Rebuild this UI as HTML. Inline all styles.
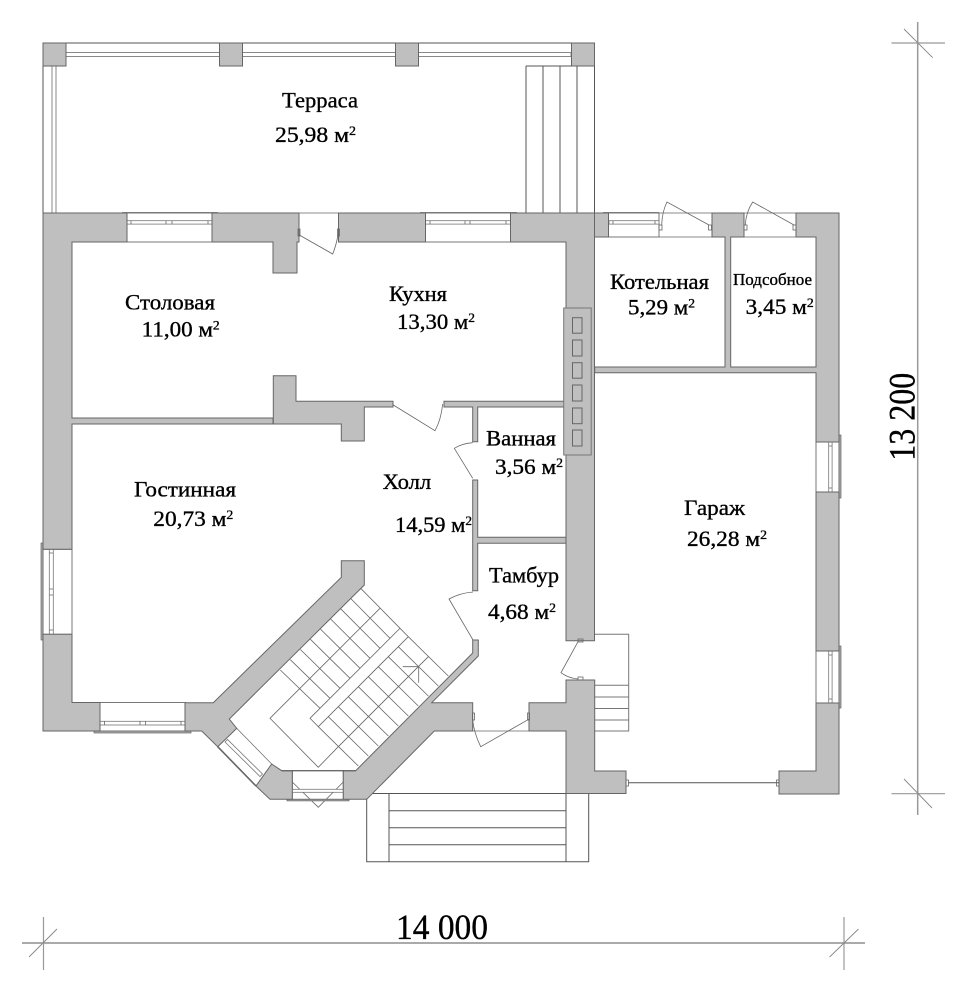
<!DOCTYPE html>
<html><head><meta charset="utf-8"><style>
html,body{margin:0;padding:0;background:#fff;width:974px;height:1000px;overflow:hidden}
svg{display:block}
.w{fill:#bfbfbf;stroke:#666;stroke-width:1}
.l{fill:none;stroke:#555;stroke-width:1}
.g{fill:none;stroke:#777;stroke-width:1}
.s{fill:none;stroke:#666;stroke-width:.8}
.sill{fill:#aaa;stroke:#666;stroke-width:.7}
.win{fill:#fff;stroke:#777;stroke-width:1}
.f{fill:#fff;stroke:#777;stroke-width:.8}
text{font-family:"Liberation Serif","Noto Serif CJK SC",serif;fill:#000;stroke:#000;stroke-width:.35}
tspan.u{font-size:13px}
</style></head><body>
<svg width="974" height="1000" viewBox="0 0 974 1000" xmlns="http://www.w3.org/2000/svg">
<rect width="974" height="1000" fill="#fff"/>

<!-- terrace -->
<path class="l" d="M43 43H594.5V213M43 43V213"/>
<rect x="66" y="52.5" width="505" height="4" fill="#fff" stroke="#888"/>
<rect x="52" y="66" width="4" height="147" fill="#fff" stroke="#888"/>
<rect class="w" x="43" y="43" width="23" height="23"/>
<rect class="w" x="219.5" y="43" width="23" height="23"/>
<rect class="w" x="395.5" y="43" width="23" height="23"/>
<rect class="w" x="571.5" y="43" width="23" height="23"/>
<path class="l" d="M526 66H571.5M526 66V213M543 66V213M560 66V213M577 66V213"/>

<!-- porch steps -->
<path class="l" d="M366.7 793.5H566V861.7H366.7ZM389 793.5V861.7H588.7V793.5M389 810.7H566M389 827.7H566M389 844.7H566"/>
<!-- garage side stairs -->
<path class="g" d="M594.7 634.3H628.7V731H594.7M594.7 685.3H628.7M594.7 697H628.7M594.7 708.5H628.7M594.7 720H628.7"/>
<path class="l" d="M628 782.7H779"/>

<!-- stairs -->
<g class="s">
<path d="M360.7 588.3L400 628.3L310 718.3L318.3 726.7L408.3 636.7L448.3 676M400 628.3L408.3 636.7"/>
<path d="M350.7 598.5L390 638.3M340.6 608.7L380 648.3M330.5 618.9L370 658.3M320.5 629.1L360 668.3M310.4 639.3L350 678.3M300.4 649.5L340 688.3M290.3 659.7L330 698.3M280.3 670L320 708.3"/>
<path d="M380 608.3L270 718.3L318.3 767.3L338.3 746.7"/>
<path d="M398.3 646.7L438.3 686M388.3 656.7L428.3 696M378.3 666.7L418.3 706M368.3 676.7L408.3 716M358.3 686.7L398.3 726M348.3 696.7L388.3 736M338.3 706.7L378.3 746M328.3 716.7L368.3 756M318.3 726.7L358.3 766"/>
<path d="M428.3 656.7L338.3 746.7"/>
<path d="M402.7 666.7H418.7V682.7"/>
</g>

<!-- windows -->
<g>
<rect class="win" x="127" y="213" width="85" height="29"/>
<path class="sill" d="M122 212.5H218" />
<rect class="f" x="127" y="220.7" width="85" height="3.4"/>
<path class="s" d="M131 220.7v3.4M166 220.7v3.4M172 220.7v3.4M208 220.7v3.4"/>

<rect class="win" x="425.5" y="213" width="85" height="29"/>
<path class="sill" d="M420 212.5H517"/>
<rect class="f" x="425.5" y="220.7" width="85" height="3.4"/>
<path class="s" d="M430 220.7v3.4M465 220.7v3.4M470 220.7v3.4M506 220.7v3.4"/>

<rect class="win" x="608.5" y="213" width="50.5" height="24"/>
<path class="sill" d="M603 212.5H659"/>
<rect class="f" x="609" y="220.7" width="50" height="3.4"/>
<path class="s" d="M613 220.7v3.4M655 220.7v3.4"/>

<!-- left -->
<rect class="win" x="43" y="549.3" width="29" height="85"/>
<rect class="sill" x="41" y="543" width="2" height="97"/>
<rect class="f" x="49.3" y="549.3" width="4" height="85"/>
<path class="s" d="M49.3 553h4M49.3 589h4M49.3 595h4M49.3 630h4"/>
<!-- bottom -->
<rect class="win" x="100" y="702.5" width="85.3" height="28.5"/>
<rect class="sill" x="94" y="731" width="97" height="2"/>
<rect class="f" x="100" y="721.3" width="85.3" height="3.7"/>
<path class="s" d="M104.5 721.3v3.7M140 721.3v3.7M145.5 721.3v3.7M181 721.3v3.7"/>
<!-- right -->
<rect class="win" x="816" y="442" width="23" height="50"/>
<rect class="sill" x="839" y="435" width="2" height="63"/>
<rect class="f" x="828.7" y="442" width="3.4" height="50"/>
<path class="s" d="M828.7 446h3.4M828.7 488h3.4"/>
<rect class="win" x="816" y="651" width="23" height="52"/>
<rect class="sill" x="839" y="646" width="2" height="62"/>
<rect class="f" x="828.7" y="651" width="3.4" height="52"/>
<path class="s" d="M828.7 655h3.4M828.7 699h3.4"/>
<!-- diagonal -->
<path class="win" d="M236.7 728.3L271.7 764L256 786L217.7 746.7Z" style="stroke-width:.8"/>
<path d="M217.7 746.7L256 786" stroke="#666" stroke-width="1.6" fill="none"/>
<path class="f" d="M225 742L260 776.5L262.5 774L227.5 739.5Z"/>
<!-- bay bottom -->
<rect class="win" x="292.3" y="770.7" width="51" height="28.6"/>
<path class="s" d="M292.3 782L318.3 807.3L343.3 782"/>
<rect class="f" x="292.3" y="789.3" width="51" height="3"/>
<rect class="sill" x="287" y="799.3" width="62" height="1.6"/>
</g>

<!-- walls -->
<path class="w" d="M43 213H127V242H72V418H273V424H72V549.3H43Z"/>
<path class="w" d="M212 213H299V242H297V273H273V242H212Z"/>
<rect class="w" x="338.5" y="213" width="87" height="29"/>
<path class="w" d="M510.5 213H594.5V640.7H566V242H510.5Z"/>
<rect class="w" x="594.5" y="213" width="14" height="24"/>
<path class="w" d="M529 702.7H566V680H594.7V771H626V793.5H566V731H529Z"/>
<path class="w" d="M43 634.3H72V702.5H100V731H43Z"/>
<path class="w" d="M712 213H744V237H730.7V367H816V237H796V213H839V442H816V372.7H594.7V367H725V237H712Z"/>
<rect class="w" x="816" y="492" width="23" height="159"/>
<path class="w" d="M816 703H839V794H779V771H816Z"/>
<path class="w" d="M273.3 375.7H296V401.3H393V407H364.3V441H341.3V424H273.3Z"/>
<path class="w" d="M444 401.3H566V407H477.7V441.7H472.7V407H444Z"/>
<path class="w" d="M472.7 480H477.7V537.3H566V543.3H477.7V590.7H472.7Z"/>
<path class="w" d="M343.3 770.7H355.7L424.3 701.7L472.7 653V640H478.3V656L431.7 702.7H472.7V731H434.3L366.7 799.3H343.3Z"/>
<path class="w" d="M341.3 560.7H364.3V585L229.3 719L236.7 728.3L217.7 746.7L201.7 731H185V702.7H213.3L341.3 577.3Z"/>
<path class="w" d="M271.7 764L281.7 770.7H292.3V799.3H270L256 786Z"/>
<path class="l" d="M281.7 770.7H355.7"/>

<!-- chimney -->
<rect x="563.7" y="308" width="27.5" height="147" fill="#bfbfbf" stroke="#777"/>
<g fill="#bfbfbf" stroke="#666">
<rect x="572.5" y="317.7" width="9.5" height="15.5"/>
<rect x="572.5" y="340" width="9.5" height="16"/>
<rect x="572.5" y="362.7" width="9.5" height="15.5"/>
<rect x="572.5" y="385" width="9.5" height="16"/>
<rect x="572.5" y="408" width="9.5" height="15.7"/>
<rect x="572.5" y="430" width="9.5" height="16"/>
</g>

<!-- doors -->
<g class="s">
<path d="M299 213H338.5"/>
<path d="M299.3 235L332.7 254Q336 246 338 235"/>
<rect x="298" y="229" width="2" height="7"/><rect x="337.5" y="229" width="2" height="7"/>
<path d="M659 237H712M659 213H712"/>
<path d="M709 225L667 202Q662 212 661.7 225"/>
<rect x="659" y="225" width="3" height="5"/><rect x="708.5" y="225" width="3" height="5"/>
<path d="M744 237H796M744 213H796"/>
<path d="M794 225L752.7 202Q746 212 745.3 225"/>
<rect x="744" y="225" width="3" height="5"/><rect x="793" y="225" width="3" height="5"/>
<path d="M393.3 405L435 430.7Q441 420 442.7 404"/>
<path d="M472.7 478.3L454.3 448.3Q462 443.5 472.7 442.7"/>
<path d="M473 592Q460 593 449 599L473 640"/>
<path d="M578 641.7L561 672.7Q568 678 578 679"/>
<rect x="578" y="639" width="5" height="3"/><rect x="578" y="677" width="5" height="3"/>
<path d="M472.7 731H529"/>
<path d="M528.7 719.3L480.7 746.7Q474 733 472.7 720"/>
<rect x="472.5" y="713" width="2" height="7"/><rect x="527.5" y="713" width="2" height="7"/>
<rect x="626" y="780" width="2.5" height="6"/><rect x="776.5" y="780" width="2.5" height="6"/>
</g>

<!-- dimensions -->
<g fill="none" stroke="#999" stroke-width="1.2">
<path d="M22 943H865" stroke="#777"/>
<path d="M43.5 917V970M844 917V970M891.5 43H945M891.5 793.7H945"/>
<path d="M917.7 22V815" stroke-width="1.5"/>
</g>
<g fill="none" stroke="#888" stroke-width=".9">
<path d="M57 929L29 957M858.5 929L829.6 957M904 29L932.7 57.7M904 779L932 808"/>
</g>

<!-- labels -->
<g font-size="22">
<text x="282" y="107.5" textLength="76" lengthAdjust="spacingAndGlyphs">Терраса</text>
<text x="275" y="142" textLength="81" lengthAdjust="spacingAndGlyphs">25,98 м<tspan class="u" dy="-7">2</tspan></text>
<text x="125" y="309.3" textLength="90" lengthAdjust="spacingAndGlyphs">Столовая</text>
<text x="141.7" y="336.7" textLength="78" lengthAdjust="spacingAndGlyphs">11,00 м<tspan class="u" dy="-7">2</tspan></text>
<text x="389" y="301" textLength="58" lengthAdjust="spacingAndGlyphs">Кухня</text>
<text x="397" y="329" textLength="78" lengthAdjust="spacingAndGlyphs">13,30 м<tspan class="u" dy="-7">2</tspan></text>
<text x="610" y="289" textLength="99" lengthAdjust="spacingAndGlyphs">Котельная</text>
<text x="628" y="314.7" textLength="67" lengthAdjust="spacingAndGlyphs">5,29 м<tspan class="u" dy="-7">2</tspan></text>
<text x="733" y="285" font-size="17" textLength="79" lengthAdjust="spacingAndGlyphs">Подсобное</text>
<text x="745.7" y="314" textLength="68" lengthAdjust="spacingAndGlyphs">3,45 м<tspan class="u" dy="-7">2</tspan></text>
<text x="486" y="445.7" textLength="70" lengthAdjust="spacingAndGlyphs">Ванная</text>
<text x="495" y="474" textLength="68" lengthAdjust="spacingAndGlyphs">3,56 м<tspan class="u" dy="-7">2</tspan></text>
<text x="382.7" y="489" textLength="48.5" lengthAdjust="spacingAndGlyphs">Холл</text>
<text x="395" y="532" textLength="77" lengthAdjust="spacingAndGlyphs">14,59 м<tspan class="u" dy="-7">2</tspan></text>
<text x="489" y="582.7" textLength="70" lengthAdjust="spacingAndGlyphs">Тамбур</text>
<text x="488" y="619" textLength="68" lengthAdjust="spacingAndGlyphs">4,68 м<tspan class="u" dy="-7">2</tspan></text>
<text x="134" y="496.7" textLength="102" lengthAdjust="spacingAndGlyphs">Гостинная</text>
<text x="153.3" y="526" textLength="80" lengthAdjust="spacingAndGlyphs">20,73 м<tspan class="u" dy="-7">2</tspan></text>
<text x="684" y="515" textLength="61" lengthAdjust="spacingAndGlyphs">Гараж</text>
<text x="687" y="546" textLength="80" lengthAdjust="spacingAndGlyphs">26,28 м<tspan class="u" dy="-7">2</tspan></text>
</g>
<text x="396" y="939" font-size="36" textLength="92" lengthAdjust="spacingAndGlyphs">14 000</text>
<text transform="translate(914.3 460.7) rotate(-90)" font-size="37" textLength="88" lengthAdjust="spacingAndGlyphs">13 200</text>
</svg>
</body></html>
